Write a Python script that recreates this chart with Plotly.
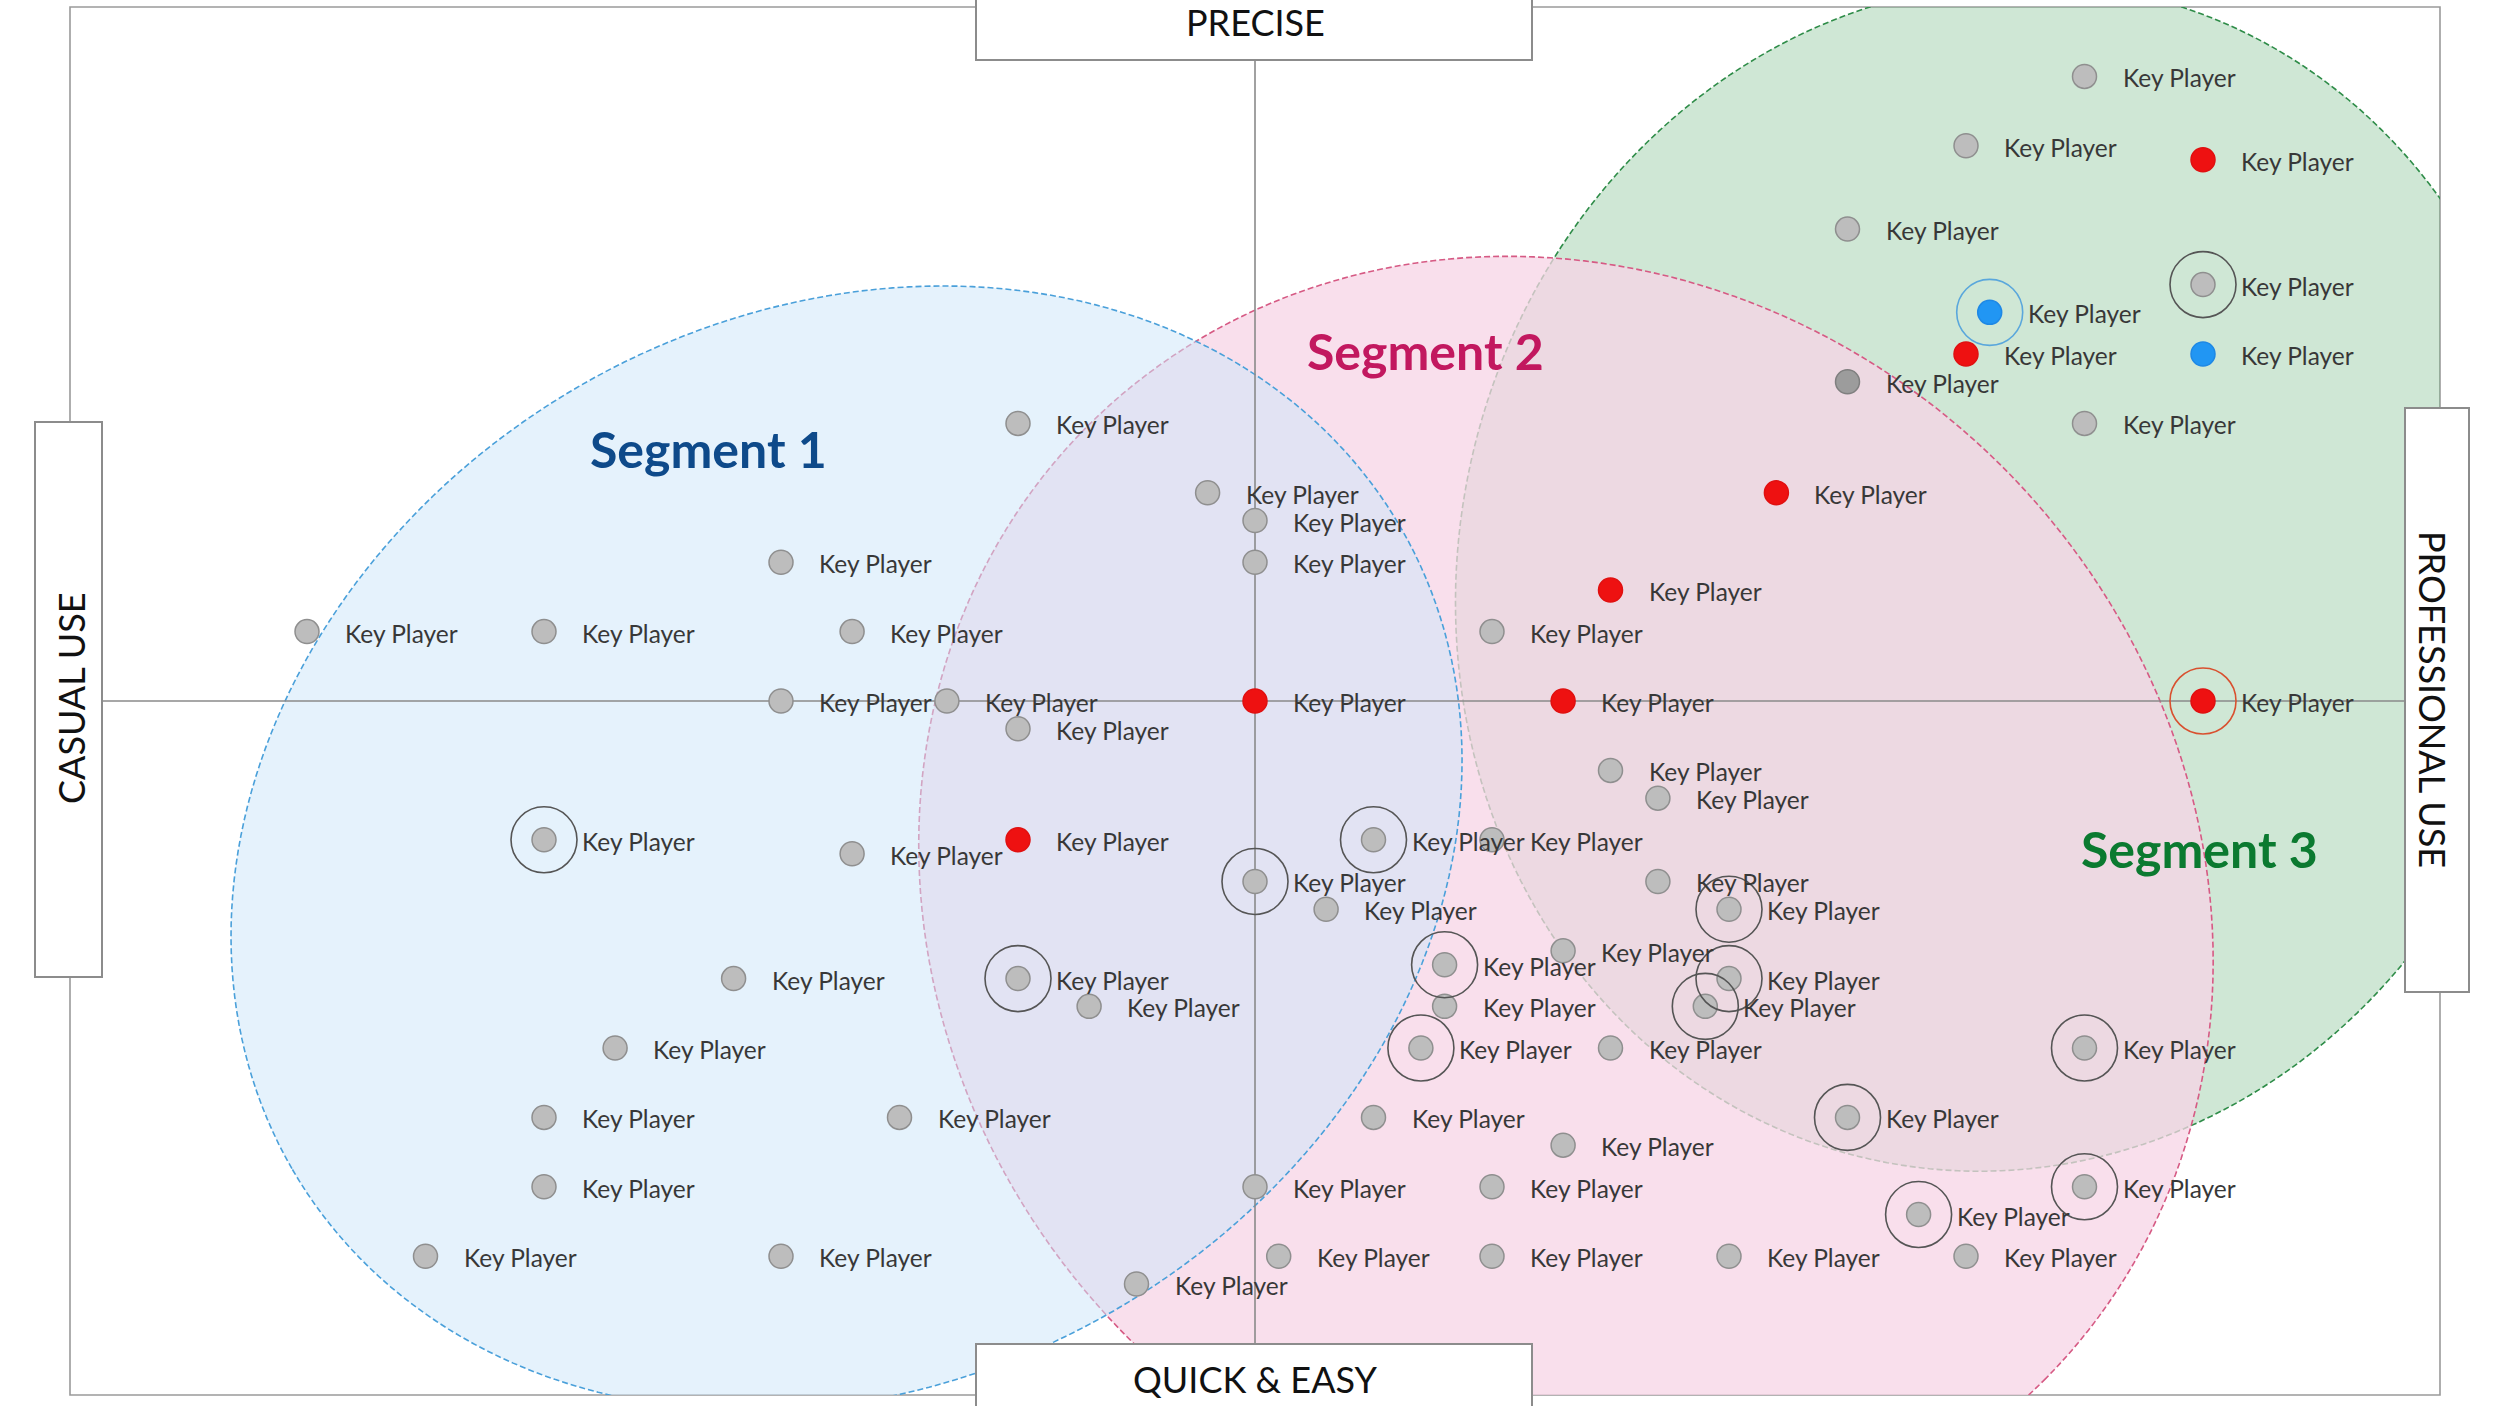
import numpy as np
import plotly.graph_objects as go

# ---------------- data ----------------
player_x = [70, 60, 80, 50, 80, 62, 60, 80, 50, 70, 44, 30, 20, 26, 80,
            -20, -4, 0, 0, -40, -80, -60, -34, -40, -26, -20, 0, -60, -34, -20,
            -44, -20, -14, -54, -60, -30, -60, -70, -40, -10,
            0, 10, 20, 6, 30, 34, 34, 40, 26, 16, 40, 16, 38, 14, 30, 70, 10, 26, 50,
            0, 20, 70, 56, 2, 20, 40, 60]
player_y = [90, 80, 78, 68, 60, 56, 50, 50, 46, 40, 30, 16, 10, 0, 0,
            40, 30, 26, 20, 20, 10, 10, 10, 0, 0, -4, 0, -20, -22, -20,
            -40, -40, -44, -50, -60, -60, -70, -80, -80, -84,
            -26, -20, -20, -30, -10, -14, -26, -30, -36, -38, -40, -44, -44, -50, -50, -50, -60, -64, -60,
            -70, -70, -70, -74, -80, -80, -80, -80]
player_kind = ["gray", "gray", "red", "gray", "gray", "blue", "red", "blue", "dark", "gray", "red", "red", "gray", "red", "red",
               "gray", "gray", "gray", "gray", "gray", "gray", "gray", "gray", "gray", "gray", "gray", "red", "gray", "gray", "red",
               "gray", "gray", "gray", "gray", "gray", "gray", "gray", "gray", "gray", "gray",
               "gray", "gray", "gray", "gray", "gray", "gray", "gray", "gray", "gray", "gray", "gray", "gray", "gray", "gray", "gray", "gray", "gray", "gray", "gray",
               "gray", "gray", "gray", "gray", "gray", "gray", "gray", "gray"]
player_ring = ["", "", "", "", "gray", "blue", "", "", "", "", "", "", "", "", "red",
               "", "", "", "", "", "", "", "", "", "", "", "", "gray", "", "",
               "", "gray", "", "", "", "", "", "", "", "",
               "gray", "gray", "", "", "", "", "", "gray", "", "gray", "gray", "", "gray", "gray", "", "gray", "", "", "gray",
               "", "", "gray", "gray", "", "", "", ""]
player_label = ["Key Player"] * len(player_x)

# segments: Segment 1 (blue), Segment 2 (pink), Segment 3 (green)
segment_names = ["Segment 1", "Segment 2", "Segment 3"]
segment_label_x = [-46.1, 14.4, 79.7]
segment_label_y = [36.3, 50.4, -21.3]
segment_center_x = [-34.47, 26.24, 63.12]
segment_center_y = [-21.25, -29.11, 17.90]
segment_radius_major = [640.4, 675.5, 597.4]   # screen px
segment_radius_minor = [534.0, 617.1, 544.3]   # screen px
segment_tilt_deg = [150.0, 44.73, -76.09]

# ---------------- layout constants ----------------
PX0, PX1, PY0, PY1 = 70, 2440, 7, 1395
KX = (PX1 - PX0) / 200.0   # px per x unit
KY = (PY1 - PY0) / 200.0   # px per y unit


def ellipse_path(cx, cy, a, b, tilt):
    t = np.radians(tilt)
    phi = np.linspace(0, 2 * np.pi, 241)
    dx = a * np.cos(phi) * np.cos(t) - b * np.sin(phi) * np.sin(t)
    dy = a * np.cos(phi) * np.sin(t) + b * np.sin(phi) * np.cos(t)
    xd = cx + dx / KX
    yd = cy - dy / KY
    return "M " + " L ".join(f"{u:.3f},{v:.3f}" for u, v in zip(xd, yd)) + " Z"


def pxp(px):
    return (px - PX0) / (PX1 - PX0)


def pyp(py):
    return (PY1 - py) / (PY1 - PY0)


# ---------------- figure ----------------
fig = go.Figure()
shapes = []

seg_fill = ["rgba(206,231,250,0.53)", "rgba(247,212,230,0.75)", "rgba(95,175,115,0.30)"]
seg_line = ["rgb(74,160,218)", "rgb(214,90,132)", "rgb(46,140,72)"]
for i in [2, 1, 0]:   # green below, pink, blue on top
    shapes.append(dict(type="path", xref="x", yref="y",
                       path=ellipse_path(segment_center_x[i], segment_center_y[i],
                                         segment_radius_major[i], segment_radius_minor[i],
                                         segment_tilt_deg[i]),
                       fillcolor=seg_fill[i],
                       line=dict(color=seg_line[i], width=1.6, dash="6px,3px"), layer="below"))

# centre cross
shapes.append(dict(type="line", xref="x", yref="y", x0=0, x1=0, y0=-100, y1=100,
                   line=dict(color="#8a8a8a", width=1.6), layer="below"))
shapes.append(dict(type="line", xref="x", yref="y", x0=-100, x1=100, y0=0, y1=0,
                   line=dict(color="#8a8a8a", width=1.6), layer="below"))
# frame
shapes.append(dict(type="rect", xref="paper", yref="paper", x0=0, x1=1, y0=0, y1=1,
                   line=dict(color="#9a9a9a", width=1.6), layer="below"))

box_line = dict(color="#8c8c8c", width=2)
for (bx0, by0, bx1, by1) in [(976, -20, 1532, 60), (976, 1344, 1532, 1430),
                             (35, 422, 102, 977), (2405, 408, 2469, 992)]:
    shapes.append(dict(type="rect", xref="paper", yref="paper",
                       x0=pxp(bx0), x1=pxp(bx1), y0=pyp(by1), y1=pyp(by0),
                       fillcolor="white", line=box_line, layer="above"))

# players
kind_fill = {"gray": "#bdbdbd", "dark": "#9c9c9c", "red": "#ee1111", "blue": "#2196f3"}
kind_line = {"gray": "#8f8f8f", "dark": "#7f7f7f", "red": "#e01010", "blue": "#1e88e5"}
fig.add_trace(go.Scatter(
    x=player_x, y=player_y, mode="markers", hoverinfo="skip", showlegend=False,
    marker=dict(size=24, color=[kind_fill[k] for k in player_kind],
                line=dict(width=1.5, color=[kind_line[k] for k in player_kind]))))

ring_col = {"gray": "#555555", "blue": "#5aa7dc", "red": "#d9502f"}
rx = [x for x, r in zip(player_x, player_ring) if r]
ry = [y for y, r in zip(player_y, player_ring) if r]
rc = [ring_col[r] for r in player_ring if r]
fig.add_trace(go.Scatter(
    x=rx, y=ry, mode="markers", hoverinfo="skip", showlegend=False,
    marker=dict(size=66, symbol="circle-open", color=rc, line=dict(width=1.6))))

annotations = []
for x, y, t in zip(player_x, player_y, player_label):
    annotations.append(dict(x=x, y=y, xref="x", yref="y", text=t, showarrow=False,
                            xanchor="left", yanchor="middle", xshift=36, yshift=-1.5,
                            font=dict(family="Lato", size=24.5, color="#383838")))

seg_colors = ["#0e4a8a", "#c2185f", "#0b7a30"]
for name, x, y, c in zip(segment_names, segment_label_x, segment_label_y, seg_colors):
    annotations.append(dict(x=x, y=y, xref="x", yref="y", text=f"<b>{name}</b>", showarrow=False,
                            xanchor="center", yanchor="middle",
                            font=dict(family="Lato", size=50, color=c)))

axis_font = dict(family="Lato", size=36, color="#111111")
annotations += [
    dict(x=0.5, y=pyp(22), xref="paper", yref="paper", text="PRECISE", showarrow=False,
         xanchor="center", yanchor="middle", font=axis_font),
    dict(x=0.5, y=pyp(1379), xref="paper", yref="paper", text="QUICK &amp; EASY", showarrow=False,
         xanchor="center", yanchor="middle", font=axis_font),
    dict(x=pxp(71), y=pyp(698), xref="paper", yref="paper", text="CASUAL USE", showarrow=False,
         textangle=-90, xanchor="center", yanchor="middle", font=axis_font),
    dict(x=pxp(2433), y=pyp(699), xref="paper", yref="paper", text="PROFESSIONAL USE", showarrow=False,
         textangle=90, xanchor="center", yanchor="middle", font=axis_font),
]

fig.update_layout(
    width=2500, height=1406, autosize=False,
    margin=dict(l=PX0, r=2500 - PX1, t=PY0, b=1406 - PY1, pad=0),
    paper_bgcolor="white", plot_bgcolor="white",
    xaxis=dict(range=[-100, 100], visible=False, fixedrange=True),
    yaxis=dict(range=[-100, 100], visible=False, fixedrange=True),
    shapes=shapes, annotations=annotations, showlegend=False,
)

fig.write_html("out.html", include_plotlyjs=True, full_html=True,
               config={"displayModeBar": False},
               post_script="document.body.style.margin='0';document.body.style.overflow='hidden';")
